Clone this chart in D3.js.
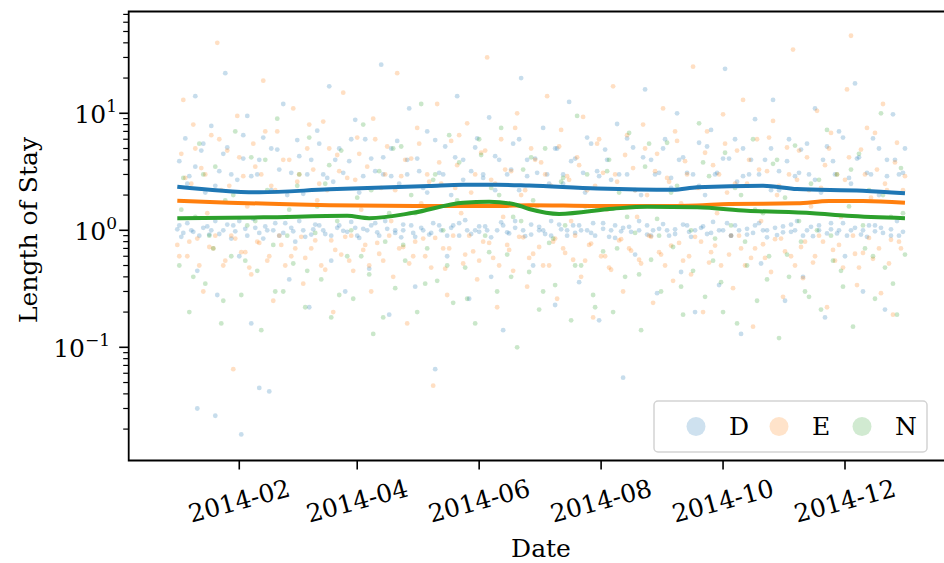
<!DOCTYPE html>
<html>
<head>
<meta charset="utf-8">
<script src="https://cdn.jsdelivr.net/npm/d3@7"></script>
<style>
  body { margin: 0; background: #fff; }
  text { font-family: "DejaVu Serif", serif; fill: #000; }
</style>
</head>
<body>
<div id="chart"></div>
<script>
// categories and colours
var categories = ["D", "E", "N"];
var colors = ["#1f77b4", "#ff7f0e", "#2ca02c"];

// x tick labels (every 2nd month)
var tickLabels = ["2014-02", "2014-04", "2014-06", "2014-08", "2014-10", "2014-12"];
var yMajor = [0.1, 1, 10];
var yMajorExp = ["\u22121", "0", "1"];

// scatter points: [day of 2014, length of stay]
var pointsD = [[0,1.02],[1,3.9],[2,0.88],[4,6.1],[5,1.15],[6,2.9],[8,0.97],[9,14],[10,0.45],[12,4.8],[13,1.05],[14,2.1],[16,0.92],[17,7.8],[19,1.2],[20,0.28],[21,3.2],[23,1.0],[24,22],[25,5.1],[27,0.85],[28,1.1],[30,2.7],[31,0.6],[33,4.1],[34,1.03],[35,9.5],[37,0.16],[38,1.25],[40,3.0],[41,0.95],[43,6.2],[44,1.08],[46,0.042],[47,2.2],[48,1.0],[50,4.9],[51,0.9],[53,12],[54,1.15],[56,0.38],[57,3.1],[58,0.98],[60,5.9],[61,1.2],[63,2.05],[64,0.88],[66,0.22],[67,4.0],[68,1.02],[70,7.1],[71,1.1],[73,3.0],[74,0.93],[76,17],[77,0.55],[78,2.6],[80,1.05],[81,5.0],[83,0.99],[84,0.3],[86,3.9],[87,1.18],[89,8.8],[90,0.9],[91,2.1],[93,1.03],[94,6.0],[96,0.47],[97,1.1],[99,3.2],[100,0.96],[102,26],[103,4.2],[104,1.2],[106,0.19],[107,2.9],[109,1.0],[110,5.8],[112,0.87],[113,1.12],[115,3.0],[116,11],[118,0.95],[119,0.33],[120,4.1],[122,1.05],[123,2.3],[125,7.0],[126,0.92],[128,1.15],[129,0.065],[131,3.1],[132,1.0],[134,5.2],[135,0.6],[137,2.0],[138,1.1],[140,14],[141,0.9],[143,4.0],[144,1.22],[146,0.26],[147,3.2],[149,1.0],[150,6.1],[151,0.97],[153,2.8],[154,1.08],[156,9.2],[157,0.4],[159,4.3],[160,1.0],[162,1.17],[163,0.14],[165,3.0],[166,0.94],[168,5.5],[169,1.05],[171,2.2],[172,20],[174,0.89],[175,4.0],[177,1.12],[178,0.5],[180,3.1],[181,1.0],[183,7.5],[184,0.93],[186,2.5],[187,1.2],[189,0.23],[190,5.0],[192,1.02],[193,3.0],[195,0.9],[196,12.5],[198,1.1],[199,4.1],[201,0.36],[202,1.0],[204,2.1],[205,6.2],[207,0.95],[208,1.15],[210,3.2],[211,0.17],[213,1.03],[214,4.9],[216,0.88],[217,2.7],[219,1.1],[220,8.1],[222,0.98],[223,0.055],[225,3.0],[226,1.07],[228,5.1],[229,0.62],[231,1.2],[232,2.0],[234,16],[235,0.92],[237,4.0],[238,1.0],[240,0.29],[241,3.1],[243,1.13],[244,6.0],[246,0.9],[247,2.3],[249,1.02],[250,10],[252,0.44],[253,4.2],[255,1.1],[256,0.97],[258,3.0],[259,0.2],[261,5.6],[262,1.05],[264,2.0],[265,0.93],[267,7.2],[268,1.18],[270,3.1],[271,0.34],[273,1.0],[274,24],[276,4.1],[277,0.9],[279,1.1],[280,2.6],[282,0.13],[283,5.0],[285,1.03],[286,3.0],[288,0.95],[289,8.9],[291,1.15],[292,0.52],[294,4.0],[295,1.0],[297,2.2],[298,13],[300,0.91],[301,3.2],[303,1.08],[304,0.25],[306,6.0],[307,0.97],[309,2.9],[310,1.2],[312,4.9],[313,0.4],[315,1.0],[316,3.0],[318,0.89],[319,11],[321,1.1],[322,2.1],[324,0.18],[325,5.2],[327,1.02],[328,3.9],[330,0.94],[331,7.0],[333,1.15],[334,0.6],[336,2.8],[337,1.0],[339,18],[340,4.1],[342,0.92],[343,0.3],[345,3.1],[346,1.1],[348,6.1],[349,0.98],[351,2.0],[352,1.05],[354,0.21],[355,4.0],[357,0.9],[358,9.8],[360,1.2],[361,3.0],[363,0.97],[364,5.0],[10,0.03],[19,0.026],[32,0.018],[41,0.045],
  [1,1.1],[3,0.95],[5,2.5],[7,1.0],[9,3.5],[11,0.9],[13,5.5],[15,1.08],[17,1.0],[19,2.4],[21,0.93],[23,4.5],[25,1.12],[27,3.0],[29,0.98],[31,1.2],[33,6.5],[35,0.9],[37,2.9],[39,1.05],[41,4.0],[43,0.85],[45,1.0],[47,5.0],[49,1.15],[51,3.3],[53,0.95],[55,2.0],[57,1.05],[59,0.8],[61,4.3],[63,1.0],[65,3.0],[67,0.92],[69,1.12],[71,5.5],[73,1.0],[75,2.8],[77,0.9],[79,4.0],[81,1.1],[83,3.1],[85,0.97],[87,6.0],[89,1.05],[91,0.86],[93,2.9],[95,1.0],[97,4.1],[99,1.15],[101,0.9],[103,3.0],[105,1.03],[107,5.0],[109,0.95],[111,2.5],[113,1.0],[115,4.0],[117,1.1],[119,0.88],[121,3.2],[123,1.0],[125,2.1],[127,0.95],[129,5.9],[131,1.1],[133,3.0],[135,0.9],[137,1.05],[139,4.2],[141,1.15],[143,2.7],[145,1.0],[147,0.93],[149,5.1],[151,1.08],[153,3.0],[155,1.0],[157,0.87],[159,2.2],[161,4.0],[163,1.1],[165,0.96],[167,3.3],[169,1.2],[171,6.0],[173,1.0],[175,2.9],[177,0.92],[179,4.1],[181,1.07],[183,1.0],[185,3.0],[187,0.9],[189,5.0],[191,1.12],[193,2.5],[195,1.0],[197,3.9],[199,0.95],[201,1.1],[203,3.1],[205,1.0],[207,5.5],[209,0.9],[211,2.9],[213,1.15],[215,4.0],[217,1.0],[219,0.86],[221,3.0],[223,1.05],[225,6.1],[227,0.97],[229,2.2],[231,1.0],[233,4.2],[235,1.1],[237,0.9],[239,3.0],[241,1.03],[243,5.0],[245,1.0],[247,2.8],[249,0.93],[251,4.0],[253,1.12],[255,3.1],[257,0.88],[259,1.0],[261,2.4],[263,1.08],[265,5.2],[267,0.95],[269,3.0],[271,1.0],[273,4.1],[275,1.15],[277,0.9],[279,6.0],[281,1.0],[283,2.9],[285,0.92],[287,4.0],[289,1.1],[291,3.0],[293,1.0],[295,0.87],[297,5.0],[299,1.05],[301,2.2],[303,0.96],[305,3.9],[307,1.12],[309,1.0],[311,3.1],[313,0.9],[315,5.5],[317,1.07],[319,2.7],[321,1.0],[323,4.0],[325,0.94],[327,1.15],[329,3.0],[331,1.0],[333,6.2],[335,0.9],[337,2.5],[339,1.05],[341,4.2],[343,1.0],[345,0.88],[347,3.0],[349,1.1],[351,5.0],[353,0.95],[355,2.9],[357,1.02],[359,4.0],[361,0.9],[363,3.1]];

var pointsE = [[0,0.75],[2,4.5],[3,13],[5,0.6],[7,2.5],[8,8.0],[10,0.85],[12,3.4],[13,0.3],[15,1.4],[17,6.5],[18,0.7],[20,40],[22,2.2],[23,0.5],[25,4.8],[27,0.9],[28,0.065],[30,9.5],[32,0.65],[33,2.9],[35,1.6],[37,0.42],[38,5.5],[40,0.8],[42,3.0],[43,19],[45,0.55],[47,2.4],[48,0.25],[50,7.0],[52,0.75],[53,4.0],[55,1.3],[57,0.6],[58,11],[60,2.6],[62,0.88],[63,0.35],[65,5.0],[67,0.7],[68,3.3],[70,1.8],[72,0.5],[73,8.5],[75,2.2],[77,0.82],[78,0.2],[80,4.4],[82,0.62],[83,15],[85,2.8],[87,0.9],[88,0.45],[90,6.2],[92,1.5],[93,0.68],[95,3.5],[97,0.3],[98,9.0],[100,0.78],[102,2.3],[103,0.55],[105,5.2],[107,1.2],[108,0.4],[110,22],[112,2.9],[113,0.72],[115,0.16],[117,4.1],[118,0.6],[120,7.5],[122,1.7],[123,0.85],[125,3.0],[127,0.48],[128,0.047],[130,12],[132,2.5],[133,0.7],[135,0.28],[137,5.8],[138,0.9],[140,3.6],[142,1.4],[143,0.52],[145,8.2],[147,2.1],[148,0.66],[150,0.38],[152,4.6],[153,0.8],[155,30],[157,2.7],[158,0.58],[160,0.22],[162,6.0],[163,1.3],[165,0.75],[167,3.2],[168,0.45],[170,10],[172,2.0],[173,0.87],[175,0.33],[177,5.0],[178,0.63],[180,1.6],[182,3.8],[183,0.5],[185,14],[187,2.4],[188,0.8],[190,0.26],[192,7.2],[193,0.7],[195,2.9],[197,1.2],[198,0.56],[200,4.2],[202,0.4],[203,9.3],[205,2.2],[207,0.77],[208,0.18],[210,5.5],[212,0.6],[213,3.1],[215,1.5],[217,0.46],[218,17],[220,2.6],[222,0.84],[223,0.3],[225,6.5],[227,0.67],[228,3.4],[230,1.3],[232,0.52],[233,8.0],[235,2.0],[237,0.88],[238,0.24],[240,4.5],[242,0.62],[243,11],[245,2.8],[247,0.74],[248,0.37],[250,5.8],[252,1.7],[253,0.55],[255,3.0],[257,0.42],[258,25],[260,2.3],[262,0.8],[263,0.2],[265,7.0],[267,0.65],[268,3.6],[270,1.4],[272,0.5],[273,9.8],[275,2.1],[277,0.9],[278,0.32],[280,4.8],[282,0.7],[283,13],[285,2.5],[287,0.58],[288,0.15],[290,6.0],[292,1.2],[293,0.76],[295,3.2],[297,0.44],[298,8.6],[300,2.0],[302,0.85],[303,0.27],[305,5.1],[307,0.6],[308,35],[310,2.7],[312,0.72],[313,0.39],[315,4.2],[317,1.6],[318,0.53],[320,10.5],[322,2.3],[323,0.8],[325,0.22],[327,6.8],[328,0.68],[330,3.0],[332,1.3],[333,0.48],[335,16],[337,46],[338,0.9],[340,0.34],[342,4.9],[343,0.64],[345,7.5],[347,1.9],[348,0.57],[350,3.3],[352,0.29],[353,12],[355,2.2],[357,0.83],[358,0.19],[360,5.6],[362,0.7],[364,2.9],
  [1,0.6],[4,2.8],[6,0.8],[9,5.0],[11,0.5],[14,3.0],[16,0.72],[19,0.9],[21,6.0],[24,0.55],[26,2.4],[29,0.85],[31,4.2],[34,0.65],[36,0.48],[39,3.5],[41,0.78],[44,7.0],[46,0.6],[49,2.2],[51,0.9],[54,0.5],[56,4.0],[59,0.7],[61,3.0],[64,0.58],[66,8.0],[69,0.82],[71,2.5],[74,0.46],[76,5.0],[79,0.68],[81,3.2],[84,0.88],[86,0.55],[89,2.7],[91,4.5],[94,0.75],[96,0.5],[99,6.0],[101,0.63],[104,3.0],[106,0.9],[109,2.2],[111,0.7],[114,4.0],[116,0.52],[119,0.8],[121,5.5],[124,0.6],[126,2.6],[129,0.86],[131,3.8],[134,0.47],[136,0.7],[139,2.3],[141,6.5],[144,0.62],[146,0.9],[149,3.0],[151,0.55],[154,4.8],[156,0.78],[159,2.5],[161,0.5],[164,3.3],[166,0.68],[169,7.5],[171,0.88],[174,2.2],[176,0.58],[179,4.0],[181,0.72],[184,3.0],[186,0.5],[189,0.85],[191,5.2],[194,0.64],[196,2.7],[199,0.9],[201,3.6],[204,0.55],[206,0.75],[209,2.4],[211,6.0],[214,0.6],[216,0.48],[219,3.0],[221,0.82],[224,4.4],[226,0.7],[229,2.2],[231,0.56],[234,5.0],[236,0.9],[239,3.2],[241,0.65],[244,0.5],[246,2.6],[249,7.0],[251,0.78],[254,3.9],[256,0.6],[259,0.88],[261,2.3],[264,4.6],[266,0.53],[269,0.74],[271,3.0],[274,5.5],[276,0.62],[279,2.5],[281,0.9],[284,0.5],[286,4.0],[289,0.7],[291,3.3],[294,0.58],[296,6.2],[299,0.84],[301,2.4],[304,0.66],[306,3.0],[309,0.5],[311,4.8],[314,0.8],[316,2.2],[319,0.6],[321,0.9],[324,3.6],[326,5.0],[329,0.55],[331,0.75],[334,2.7],[336,4.2],[339,0.63],[341,0.48],[344,3.0],[346,0.86],[349,6.8],[351,0.7],[354,2.5],[356,0.52],[359,3.8],[361,0.8],[363,2.2]];

var pointsN = [[1,0.5],[3,2.8],[6,0.2],[9,1.3],[11,5.5],[14,0.35],[16,0.9],[19,3.5],[22,0.16],[24,1.8],[27,0.6],[29,7.0],[32,0.28],[35,1.1],[37,4.2],[40,0.45],[42,0.14],[45,2.2],[48,0.75],[50,9.0],[53,0.3],[56,1.5],[58,0.52],[61,3.0],[64,0.22],[66,6.2],[69,0.95],[72,0.38],[74,2.5],[77,0.18],[80,1.2],[82,4.8],[85,0.6],[88,0.26],[90,1.9],[93,8.0],[96,0.42],[98,0.13],[101,3.2],[104,0.8],[106,1.4],[109,0.32],[112,5.2],[114,0.55],[117,2.0],[120,0.2],[122,12],[125,0.7],[128,2.7],[130,0.37],[133,1.0],[136,6.5],[138,0.24],[141,3.8],[144,0.48],[146,1.7],[149,0.16],[152,4.4],[154,0.9],[157,2.3],[160,0.3],[162,7.5],[165,0.62],[168,1.3],[170,0.1],[173,3.3],[176,0.44],[178,1.8],[181,0.21],[184,5.0],[186,0.78],[189,0.34],[192,2.6],[194,1.1],[197,0.17],[200,9.5],[202,0.5],[205,3.0],[208,0.28],[210,1.5],[213,0.66],[216,4.0],[218,0.2],[221,2.1],[224,0.4],[226,6.8],[229,0.95],[232,0.14],[234,3.5],[237,0.56],[240,1.25],[242,0.3],[245,5.6],[248,0.72],[250,2.4],[253,0.19],[256,1.6],[258,0.45],[261,8.2],[264,0.27],[266,2.9],[269,0.85],[272,0.36],[274,4.6],[277,1.1],[280,0.16],[282,2.0],[285,0.5],[288,6.0],[290,0.25],[293,1.4],[296,0.6],[298,3.7],[301,0.12],[304,1.9],[306,0.4],[309,5.3],[312,0.8],[314,0.3],[317,2.5],[320,1.0],[322,0.21],[325,7.2],[328,0.55],[330,3.0],[333,0.33],[336,1.6],[338,0.15],[341,4.5],[344,0.7],[346,2.2],[349,0.26],[352,10],[354,0.48],[357,1.3],[360,0.19],[362,3.4],[364,0.62],
  [2,1.5],[8,0.4],[13,3.0],[18,0.7],[23,0.25],[28,2.0],[34,0.55],[39,1.2],[44,4.0],[49,0.3],[55,0.9],[60,2.4],[65,0.45],[70,1.6],[76,3.6],[81,0.28],[87,1.0],[92,0.6],[97,2.2],[103,0.18],[108,5.0],[113,0.75],[119,1.4],[124,0.35],[129,3.0],[135,0.5],[140,1.8],[145,0.26],[151,6.0],[156,0.65],[161,2.0],[167,0.4],[172,1.2],[177,4.2],[183,0.3],[188,0.85],[193,2.8],[199,0.5],[204,1.6],[209,0.22],[215,3.2],[220,0.7],[225,1.3],[231,0.42],[236,5.5],[241,0.9],[247,2.1],[252,0.33],[257,1.0],[263,3.8],[268,0.55],[273,0.2],[279,2.3],[284,0.8],[289,1.5],[295,0.38],[300,4.0],[305,0.62],[311,1.2],[316,0.27],[321,2.7],[327,0.9],[332,0.45],[337,3.3],[343,1.1],[348,0.6],[353,2.0],[358,0.35],[363,1.4]];

// smoothed trend per category: [day, value]
var trendD = [[0,2.36],[41,2.11],[76,2.24],[126,2.39],[143,2.45],[160,2.45],[176,2.41],[210,2.28],[248,2.22],[260,2.33],[293,2.40],[310,2.25],[343,2.18],[364,2.07]];
var trendE = [[0,1.79],[26,1.72],[51,1.68],[76,1.64],[126,1.61],[160,1.61],[176,1.64],[210,1.61],[243,1.61],[260,1.63],[276,1.68],[310,1.70],[326,1.78],[343,1.78],[364,1.72]];
var trendN = [[0,1.27],[43,1.29],[85,1.33],[96,1.27],[118,1.41],[143,1.72],[156,1.75],[168,1.68],[176,1.52],[191,1.38],[218,1.53],[235,1.59],[260,1.57],[285,1.47],[318,1.40],[335,1.33],[364,1.27]];

function start(){
    var width = 944, height = 563;
    var plot = {left: 128.7, right: 944, top: 11.5, bottom: 460.5};

    var svg = d3.select("#chart").append("svg")
        .attr("width", width)
        .attr("height", height);

    var day0 = Date.UTC(2014, 0, 1);
    var toDate = function(d){ return new Date(day0 + d * 86400000); };

    var xScale = d3.scaleUtc()
        .domain([new Date(day0), new Date(Date.UTC(2014, 11, 1))])
        .range([177.3, 845]);
    var yScale = d3.scaleLog()
        .domain([0.01078, 74.1])
        .range([plot.bottom, plot.top]);

    svg.append("clipPath").attr("id", "clip")
        .append("rect")
        .attr("x", plot.left).attr("y", plot.top)
        .attr("width", plot.right - plot.left)
        .attr("height", plot.bottom - plot.top);

    var g = svg.append("g").attr("clip-path", "url(#clip)");

    var allPoints = [pointsD, pointsE, pointsN];
    allPoints.forEach(function(pts, i){
        g.append("g").selectAll("circle")
            .data(pts)
            .enter()
            .append("circle")
            .attr("cx", function(d){ return xScale(toDate(d[0])); })
            .attr("cy", function(d){ return yScale(d[1]); })
            .attr("r", 2.4)
            .attr("fill", colors[i])
            .attr("fill-opacity", 0.25);
    });

    var line = d3.line()
        .x(function(d){ return xScale(toDate(d[0])); })
        .y(function(d){ return yScale(d[1]); })
        .curve(d3.curveMonotoneX);

    [trendD, trendE, trendN].forEach(function(t, i){
        g.append("path")
            .datum(t)
            .attr("d", line)
            .attr("fill", "none")
            .attr("stroke", colors[i])
            .attr("stroke-width", 4)
            .attr("stroke-linecap", "butt");
    });

    // spines
    svg.append("path")
        .attr("d", "M" + plot.right + "," + plot.top + "H" + plot.left + "V" + plot.bottom + "H" + plot.right)
        .attr("fill", "none")
        .attr("stroke", "#000")
        .attr("stroke-width", 1.8);

    // x ticks
    var parseMonth = d3.utcParse("%Y-%m");
    var xg = svg.append("g");
    tickLabels.forEach(function(lbl){
        var x = xScale(parseMonth(lbl));
        xg.append("line")
            .attr("x1", x).attr("x2", x)
            .attr("y1", plot.bottom).attr("y2", plot.bottom + 9)
            .attr("stroke", "#000").attr("stroke-width", 1.6);
        xg.append("text")
            .attr("transform", "translate(" + x + "," + 501 + ") rotate(-15)")
            .attr("text-anchor", "middle")
            .attr("dominant-baseline", "central")
            .style("font-size", "25px")
            .text(lbl);
    });

    // y ticks, major and minor
    var yg = svg.append("g");
    var dom = yScale.domain();
    for (var e = -2; e <= 1; e++){
        for (var k = 2; k <= 9; k++){
            var v = k * Math.pow(10, e);
            if (v < dom[0] || v > dom[1]) continue;
            yg.append("line")
                .attr("x1", plot.left - 5.5).attr("x2", plot.left)
                .attr("y1", yScale(v)).attr("y2", yScale(v))
                .attr("stroke", "#000").attr("stroke-width", 1.2);
        }
    }
    yMajor.forEach(function(v, i){
        var y = yScale(v);
        yg.append("line")
            .attr("x1", plot.left - 9.5).attr("x2", plot.left)
            .attr("y1", y).attr("y2", y)
            .attr("stroke", "#000").attr("stroke-width", 1.6);
        var t = yg.append("text")
            .attr("x", i === 0 ? 110 : 117)
            .attr("y", y + 10)
            .attr("text-anchor", "end")
            .style("font-size", "25px");
        t.append("tspan").text("10");
        t.append("tspan")
            .attr("dy", -11)
            .style("font-size", "17px")
            .text(yMajorExp[i]);
    });

    // axis labels
    svg.append("text")
        .attr("transform", "translate(37,230) rotate(-90)")
        .attr("text-anchor", "middle")
        .style("font-size", "25px")
        .text("Length of Stay");

    svg.append("text")
        .attr("x", 541)
        .attr("y", 557)
        .attr("text-anchor", "middle")
        .style("font-size", "25px")
        .text("Date");

    // legend
    var legend = svg.append("g");
    legend.append("rect")
        .attr("x", 654).attr("y", 401)
        .attr("width", 273).attr("height", 51)
        .attr("rx", 4)
        .attr("fill", "#fff").attr("fill-opacity", 0.8)
        .attr("stroke", "#d3d3d3").attr("stroke-width", 1.5);
    categories.forEach(function(c, i){
        var cx = 696 + i * 83;
        legend.append("circle")
            .attr("cx", cx).attr("cy", 426.5)
            .attr("r", 9.5)
            .attr("fill", colors[i])
            .attr("fill-opacity", 0.22);
        legend.append("text")
            .attr("x", cx + 33).attr("y", 435)
            .style("font-size", "25px")
            .text(c);
    });
}

start();
</script>
</body>
</html>
